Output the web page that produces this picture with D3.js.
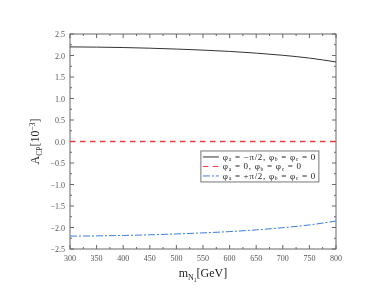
<!DOCTYPE html>
<html>
<head>
<meta charset="utf-8">
<script src="https://cdn.jsdelivr.net/npm/d3@7"></script>
<style>
  body { margin: 0; background: #fff; }
  svg { will-change: transform; }
  svg text { font-family: "Liberation Serif", "DejaVu Serif", serif; }
</style>
</head>
<body>
<div id="chart"></div>
<script>
// data
const masses = [300, 350, 400, 450, 500, 550, 600, 650, 700, 750, 800];
const acpMinus = [2.2, 2.195, 2.185, 2.17, 2.15, 2.125, 2.095, 2.055, 2.005, 1.94, 1.85];
const acpZero = [0, 0, 0, 0, 0, 0, 0, 0, 0, 0, 0];
const acpPlus = [-2.2, -2.195, -2.185, -2.17, -2.15, -2.125, -2.095, -2.055, -2.005, -1.94, -1.85];
const xTicks = [300, 350, 400, 450, 500, 550, 600, 650, 700, 750, 800];
const yTicks = [-2.5, -2.0, -1.5, -1.0, -0.5, 0.0, 0.5, 1.0, 1.5, 2.0, 2.5];

const width = 390, height = 299;
const margin = { top: 34, right: 54, bottom: 50, left: 70 };
const w = width - margin.left - margin.right;
const h = height - margin.top - margin.bottom;
const axisColor = '#666';

const svg = d3.select('#chart')
  .append('svg')
    .attr('width', width)
    .attr('height', height)
  .append('g')
    .attr('transform', `translate(${margin.left},${margin.top})`);

const x = d3.scaleLinear().domain([300, 800]).range([0, w]);
const y = d3.scaleLinear().domain([-2.5, 2.5]).range([h, 0]);

// frame
svg.append('rect')
  .attr('width', w).attr('height', h)
  .attr('fill', 'none').attr('stroke', axisColor).attr('stroke-width', 1);

// ticks, inward on all sides
const xMinor = d3.range(325, 800, 50);
const yMinor = d3.range(-2.25, 2.5, 0.5);
function tickLines(vals, len, vertical) {
  vals.forEach((v) => {
    if (vertical) {
      svg.append('line').attr('x1', x(v)).attr('x2', x(v)).attr('y1', h).attr('y2', h - len)
        .attr('stroke', axisColor);
      svg.append('line').attr('x1', x(v)).attr('x2', x(v)).attr('y1', 0).attr('y2', len)
        .attr('stroke', axisColor);
    } else {
      svg.append('line').attr('y1', y(v)).attr('y2', y(v)).attr('x1', 0).attr('x2', len)
        .attr('stroke', axisColor);
      svg.append('line').attr('y1', y(v)).attr('y2', y(v)).attr('x1', w).attr('x2', w - len)
        .attr('stroke', axisColor);
    }
  });
}
tickLines(xTicks, 4, true);
tickLines(xMinor, 2, true);
tickLines(yTicks, 4, false);
tickLines(yMinor, 2, false);

// tick labels
svg.selectAll('.xlab')
  .data(xTicks)
  .enter()
  .append('text')
  .attr('x', (d) => x(d))
  .attr('y', h + 12)
  .attr('text-anchor', 'middle')
  .attr('font-size', 8)
  .attr('fill', '#555')
  .text((d) => d);

svg.selectAll('.ylab')
  .data(yTicks)
  .enter()
  .append('text')
  .attr('x', -5)
  .attr('y', (d) => y(d) + 3)
  .attr('text-anchor', 'end')
  .attr('font-size', 8)
  .attr('fill', '#555')
  .text((d) => (d < 0 ? '\u2212' : '') + Math.abs(d).toFixed(1));

// axis titles
const xTitle = svg.append('text')
  .attr('x', w / 2)
  .attr('y', h + 28)
  .attr('text-anchor', 'middle')
  .attr('font-size', 12)
  .attr('fill', '#222');
xTitle.append('tspan').text('m');
xTitle.append('tspan').attr('font-size', 8).attr('dy', 3).text('N');
xTitle.append('tspan').attr('font-size', 5.5).attr('dy', 1.5).text('1');
xTitle.append('tspan').attr('dy', -4.5).text('[GeV]');

const yTitle = svg.append('text')
  .attr('transform', `translate(-31,${h / 2}) rotate(-90)`)
  .attr('text-anchor', 'middle')
  .attr('font-size', 12)
  .attr('fill', '#222');
yTitle.append('tspan').text('A');
yTitle.append('tspan').attr('font-size', 7.5).attr('dy', 3).text('CP');
yTitle.append('tspan').attr('dy', -3).text('[10');
yTitle.append('tspan').attr('font-size', 7.5).attr('dy', -4).text('\u22123');
yTitle.append('tspan').attr('dy', 4).text(']');

// curves
const line = d3.line().x((d) => x(d[0])).y((d) => y(d[1])).curve(d3.curveMonotoneX);
const series = [
  { values: acpMinus, color: '#333', dash: null, width: 1 },
  { values: acpZero, color: '#ee3a3a', dash: '5.5,4.5', width: 1.3 },
  { values: acpPlus, color: '#3a7de0', dash: '7,2,2,2', width: 1 },
];
series.forEach((s) => {
  svg.append('path')
    .datum(masses.map((m, j) => [m, s.values[j]]))
    .attr('d', line)
    .attr('fill', 'none')
    .attr('stroke', s.color)
    .attr('stroke-width', s.width)
    .attr('stroke-dasharray', s.dash);
});

// legend
const legend = svg.append('g').attr('transform', `translate(${x(546)},${y(-0.22)})`);
legend.append('rect')
  .attr('width', 118).attr('height', 31)
  .attr('fill', '#fff').attr('stroke', '#777').attr('stroke-width', 1);
const legendLabels = [
  ['\u03c6', 'a', ' = \u2212\u03c0/2, \u03c6', 'b', ' = \u03c6', 'c', ' = 0'],
  ['\u03c6', 'a', ' = 0, \u03c6', 'b', ' = \u03c6', 'c', ' = 0'],
  ['\u03c6', 'a', ' = +\u03c0/2, \u03c6', 'b', ' = \u03c6', 'c', ' = 0'],
];
series.forEach((s, i) => {
  const ly = 6 + i * 9.5;
  legend.append('line')
    .attr('x1', 2).attr('x2', 18).attr('y1', ly).attr('y2', ly)
    .attr('stroke', s.color).attr('stroke-dasharray', s.dash);
  const t = legend.append('text')
    .attr('x', 22).attr('y', ly + 3)
    .attr('font-size', 9).attr('letter-spacing', 0.7).attr('fill', '#222');
  legendLabels[i].forEach((part, k) => {
    if (k % 2 === 1) {
      t.append('tspan').attr('font-size', 5.5).attr('dy', 1.5).text(part);
    } else {
      t.append('tspan').attr('dy', k === 0 ? 0 : -1.5).text(part);
    }
  });
});
</script>
</body>
</html>
